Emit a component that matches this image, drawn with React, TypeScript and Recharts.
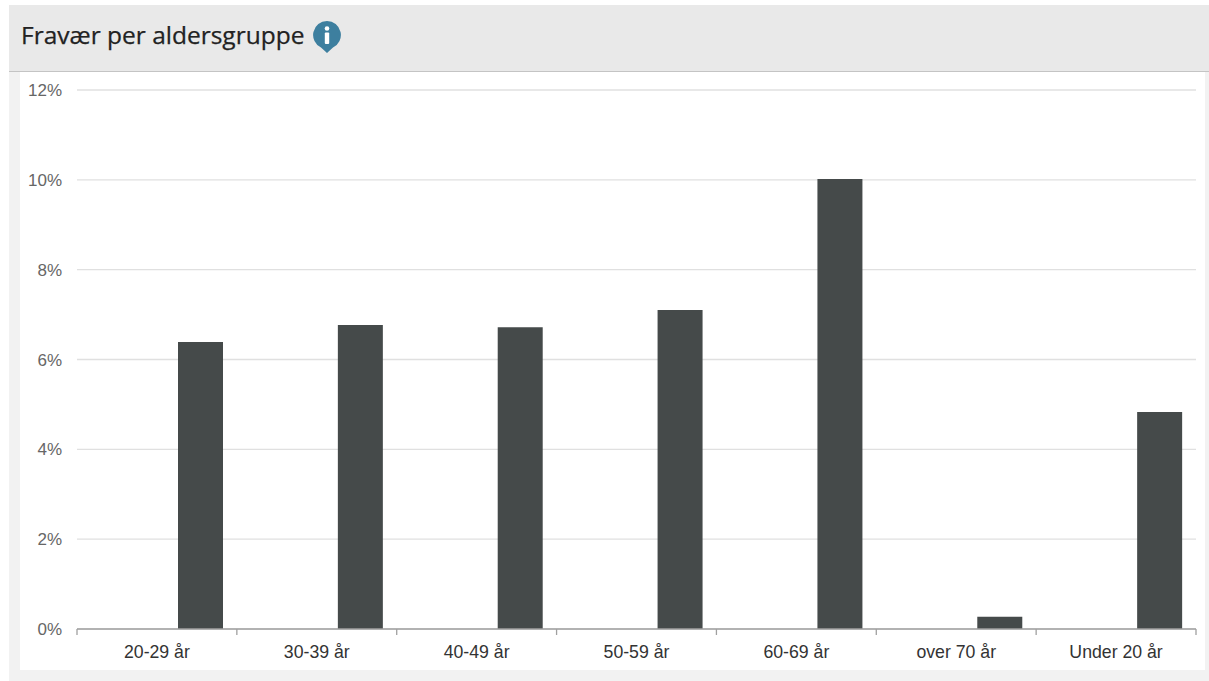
import React from "react";
import { BarChart, Bar, XAxis, YAxis, CartesianGrid } from "recharts";

const categories = ["20-29 år", "30-39 år", "40-49 år", "50-59 år", "60-69 år", "over 70 år", "Under 20 år"];
const fravaer = [6.39, 6.77, 6.72, 7.1, 10.02, 0.27, 4.83];
const comparison = [null, null, null, null, null, null, null];
const slots = [0, 1, 2, 3, 4, 5, 6];
const yTicks = [0, 2, 4, 6, 8, 10, 12];
const boundaryTicks = [0, 1, 2, 3, 4, 5, 6, 7];

const data = categories.map((name, i) => ({ name, slot: slots[i], fravaer: fravaer[i], comparison: comparison[i] }));

export default function App() {
  return (
    <div style={{ position: "absolute", left: 0, top: 0, width: 1209, height: 681, overflow: "hidden", background: "#ffffff" }}>
      <div style={{ position: "absolute", left: 9, top: 5, width: 1200, height: 676, background: "#f2f2f2" }} />
      <div style={{ position: "absolute", left: 20, top: 71, width: 1185, height: 599, background: "#ffffff" }} />
      <div style={{ position: "absolute", left: 9, top: 5, width: 1200, height: 66, background: "#e9e9e9", borderBottom: "1px solid #c4c4c4" }} />
      <div style={{ position: "absolute", left: 0, top: 0, width: 1209, height: 5, overflow: "hidden" }}>
        <div style={{ position: "absolute", left: 8, top: -30, whiteSpace: "nowrap", fontFamily: "'Open Sans', sans-serif", fontWeight: 700, fontSize: 24, lineHeight: "30px", color: "#000" }}>
          Sykefravær per aldersgruppe
        </div>
      </div>
      <div style={{ position: "absolute", left: 21, top: 19, whiteSpace: "nowrap", fontFamily: "'Open Sans', sans-serif", fontSize: 24.5, lineHeight: "32px", color: "#222222", WebkitTextStroke: "0.25px #222222" }}>
        Fravær per aldersgruppe
      </div>
      <svg style={{ position: "absolute", left: 313, top: 21 }} width="28" height="32" viewBox="0 0 28 32">
        <path d="M14 0a14 14 0 0 1 6 26.6L14 32l-6-5.4A14 14 0 0 1 14 0z" fill="#3d7f9f" />
        <circle cx="14" cy="7.5" r="2.3" fill="#fff" />
        <rect x="11.8" y="11.5" width="4.4" height="11.5" rx="1" fill="#fff" />
      </svg>
      <div style={{ position: "absolute", left: 0, top: 0 }}>
        <BarChart
          width={1209}
          height={681}
          data={data}
          margin={{ top: 90, right: 13, bottom: 0, left: 0 }}
          barSize={45}
          barGap={42}
        >
          <CartesianGrid horizontal vertical={false} stroke="#e0e0e0" strokeWidth={1.3} xAxisId="labels" />
          <XAxis
            xAxisId="boundaries"
            dataKey="slot"
            type="number"
            scale="linear"
            domain={[0, 7]}
            allowDataOverflow
            ticks={boundaryTicks}
            height={1}
            tickFormatter={() => ""}
            tickLine={{ stroke: "#a0a0a0", strokeWidth: 1.3 }}
            tickSize={6}
            axisLine={{ stroke: "#a0a0a0", strokeWidth: 1.3 }}
            interval={0}
          />
          <XAxis
            xAxisId="labels"
            dataKey="name"
            height={51}
            axisLine={false}
            tickLine={false}
            tickMargin={9}
            interval={0}
            tick={{ fill: "#333333", fontSize: 17.7, fontFamily: "'Liberation Sans', Arial, sans-serif" }}
          />
          <YAxis
            width={77}
            domain={[0, 12]}
            ticks={yTicks}
            axisLine={false}
            tickLine={false}
            tickMargin={9}
            tickFormatter={(v: number) => `${v}%`}
            tick={{ fill: "#666666", fontSize: 17, fontFamily: "'Liberation Sans', Arial, sans-serif" }}
          />
          <Bar xAxisId="labels" dataKey="comparison" fill="#3d7f9f" isAnimationActive={false} />
          <Bar xAxisId="labels" dataKey="fravaer" fill="#454a4a" isAnimationActive={false} />
        </BarChart>
      </div>
    </div>
  );
}
